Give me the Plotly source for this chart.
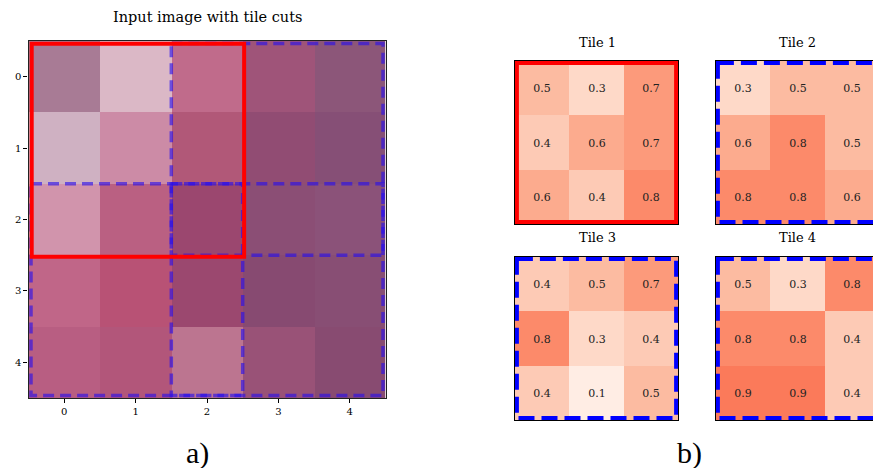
import plotly.graph_objects as go

W, H = 873, 468

# 5x5 input image (rendered RGB, tiles shaded in)
image_rgb = [
    ["#a87b95", "#dbb8c6", "#c06b8b", "#9f5479", "#8c5679"],
    ["#cfb1c2", "#cc8ba6", "#b15878", "#914c73", "#864f76"],
    ["#d194ac", "#ba6082", "#9b476f", "#8b4e75", "#8b5279"],
    ["#c06688", "#b85275", "#9b486f", "#874a71", "#884e74"],
    ["#b85e82", "#b2567a", "#bc7590", "#995277", "#884b71"],
]
axis_ticks = [0, 1, 2, 3, 4]

tile_titles = ["Tile 1", "Tile 2", "Tile 3", "Tile 4"]
tile1 = [[0.5, 0.3, 0.7], [0.4, 0.6, 0.7], [0.6, 0.4, 0.8]]
tile2 = [[0.3, 0.5, 0.5], [0.6, 0.8, 0.5], [0.8, 0.8, 0.6]]
tile3 = [[0.4, 0.5, 0.7], [0.8, 0.3, 0.4], [0.4, 0.1, 0.5]]
tile4 = [[0.5, 0.3, 0.8], [0.8, 0.8, 0.4], [0.9, 0.9, 0.4]]

# tile windows on the 5x5 grid: (col0, col1, row0, row1) in cell-edge units
tile_windows = [(-0.5, 2.5, -0.5, 2.5), (1.5, 4.5, -0.5, 2.5),
                (-0.5, 2.5, 1.5, 4.5), (1.5, 4.5, 1.5, 4.5)]

SERIF = "DejaVu Serif"


def hex_to_rgb(h):
    h = h.lstrip("#")
    return [int(h[i:i + 2], 16) for i in (0, 2, 4)]


def px_x(p):
    return p / W


def px_y(p):
    return 1 - p / H


fig = go.Figure()

fig.add_trace(go.Image(z=[[hex_to_rgb(c) for c in row] for row in image_rgb],
                       xaxis="x", yaxis="y", hoverinfo="skip"))

tiles = [tile1, tile2, tile3, tile4]
tile_axes = [("x2", "y2"), ("x3", "y3"), ("x4", "y4"), ("x5", "y5")]
for z, (xa, ya) in zip(tiles, tile_axes):
    fig.add_trace(go.Heatmap(
        z=z, xaxis=xa, yaxis=ya, colorscale="Reds", zmin=0, zmax=2,
        showscale=False, texttemplate="%{z:.1f}", hoverinfo="skip",
        textfont=dict(family=SERIF, size=11, color="#222222"),
    ))

layout = dict(
    width=W, height=H, margin=dict(l=0, r=0, t=0, b=0),
    paper_bgcolor="white", plot_bgcolor="white", showlegend=False,
)

# main image axes
layout["xaxis"] = dict(
    domain=[px_x(28), px_x(386)], range=[-0.5, 4.5], anchor="y",
    tickvals=axis_ticks, ticks="outside", ticklen=4, tickcolor="black",
    showgrid=False, zeroline=False, showline=True, mirror=True,
    linecolor="#222222", linewidth=1.2,
    tickfont=dict(family=SERIF, size=10, color="black"),
)
layout["yaxis"] = dict(
    domain=[px_y(398), px_y(41)], range=[4.5, -0.5], anchor="x",
    tickvals=axis_ticks, ticks="outside", ticklen=4, tickcolor="black",
    showgrid=False, zeroline=False, showline=True, mirror=True,
    linecolor="#222222", linewidth=1.2,
    tickfont=dict(family=SERIF, size=10, color="black"),
)

tile_boxes = [  # left, right, top, bottom in pixels
    (515, 678, 61, 224), (716, 879, 61, 224),
    (515, 678, 257, 420), (716, 879, 257, 420),
]
for i, ((xa, ya), (l, r, t, b)) in enumerate(zip(tile_axes, tile_boxes)):
    xn = "xaxis" + xa[1:]
    yn = "yaxis" + ya[1:]
    cut = r > W
    right = min(r, W)
    xmax = -0.5 + 3 * (right - l) / (r - l)
    layout[xn] = dict(domain=[px_x(l), px_x(right)], range=[-0.5, xmax],
                      anchor=ya, showticklabels=False, ticks="",
                      showgrid=False, zeroline=False, showline=True,
                      mirror=True, linecolor="black", linewidth=1)
    layout[yn] = dict(domain=[px_y(b), px_y(t)], range=[2.5, -0.5],
                      anchor=xa, showticklabels=False, ticks="",
                      showgrid=False, zeroline=False, showline=True,
                      mirror=not cut, linecolor="black", linewidth=1)

shapes = []
# tile cuts on the main image: dashed outlines for tiles 2-4
inset = 0.035
for (c0, c1, r0, r1) in tile_windows[1:]:
    shapes.append(dict(
        type="rect", xref="x", yref="y",
        x0=c0 + (inset if c0 < 0 else 0), x1=c1 - (inset if c1 > 4 else 0),
        y0=r0 + (inset if r0 < 0 else 0), y1=r1 - (inset if r1 > 4 else 0),
        line=dict(color="rgba(40,15,235,0.62)", width=3.5, dash="11px,6px"),
    ))
# tile 1 outline on the main image
c0, c1, r0, r1 = tile_windows[0]
shapes.append(dict(type="rect", xref="x", yref="y",
                   x0=c0 + 0.045, x1=c1 + 0.02, y0=r0 + 0.04, y1=r1 + 0.02,
                   line=dict(color="#ff0000", width=4)))

# outlines around each tile panel
for i, (xa, ya) in enumerate(tile_axes):
    d = 0.035
    if i == 0:
        line = dict(color="#ff0000", width=4)
    else:
        line = dict(color="#0000ff", width=4, dash="16px,7px")
    shapes.append(dict(type="rect", xref=xa, yref=ya,
                       x0=-0.5 + d, x1=2.5 - d, y0=-0.5 + d, y1=2.5 - d,
                       line=line))
layout["shapes"] = shapes

annotations = [
    dict(text="Input image with tile cuts", x=px_x(207), y=px_y(17),
         font=dict(family=SERIF, size=14.5, color="black")),
    dict(text="a)", x=px_x(197), y=px_y(453),
         font=dict(family="Liberation Serif", size=30, color="black")),
    dict(text="b)", x=px_x(689), y=px_y(453),
         font=dict(family="Liberation Serif", size=30, color="black")),
]
title_pos = [(597, 42), (797, 42), (597, 237), (797, 237)]
for t, (x, y) in zip(tile_titles, title_pos):
    annotations.append(dict(text=t, x=px_x(x), y=px_y(y),
                            font=dict(family=SERIF, size=13, color="black")))
for a in annotations:
    a.update(xref="paper", yref="paper", showarrow=False,
             xanchor="center", yanchor="middle")
layout["annotations"] = annotations

fig.update_layout(**layout)
fig.write_html("out.html")
